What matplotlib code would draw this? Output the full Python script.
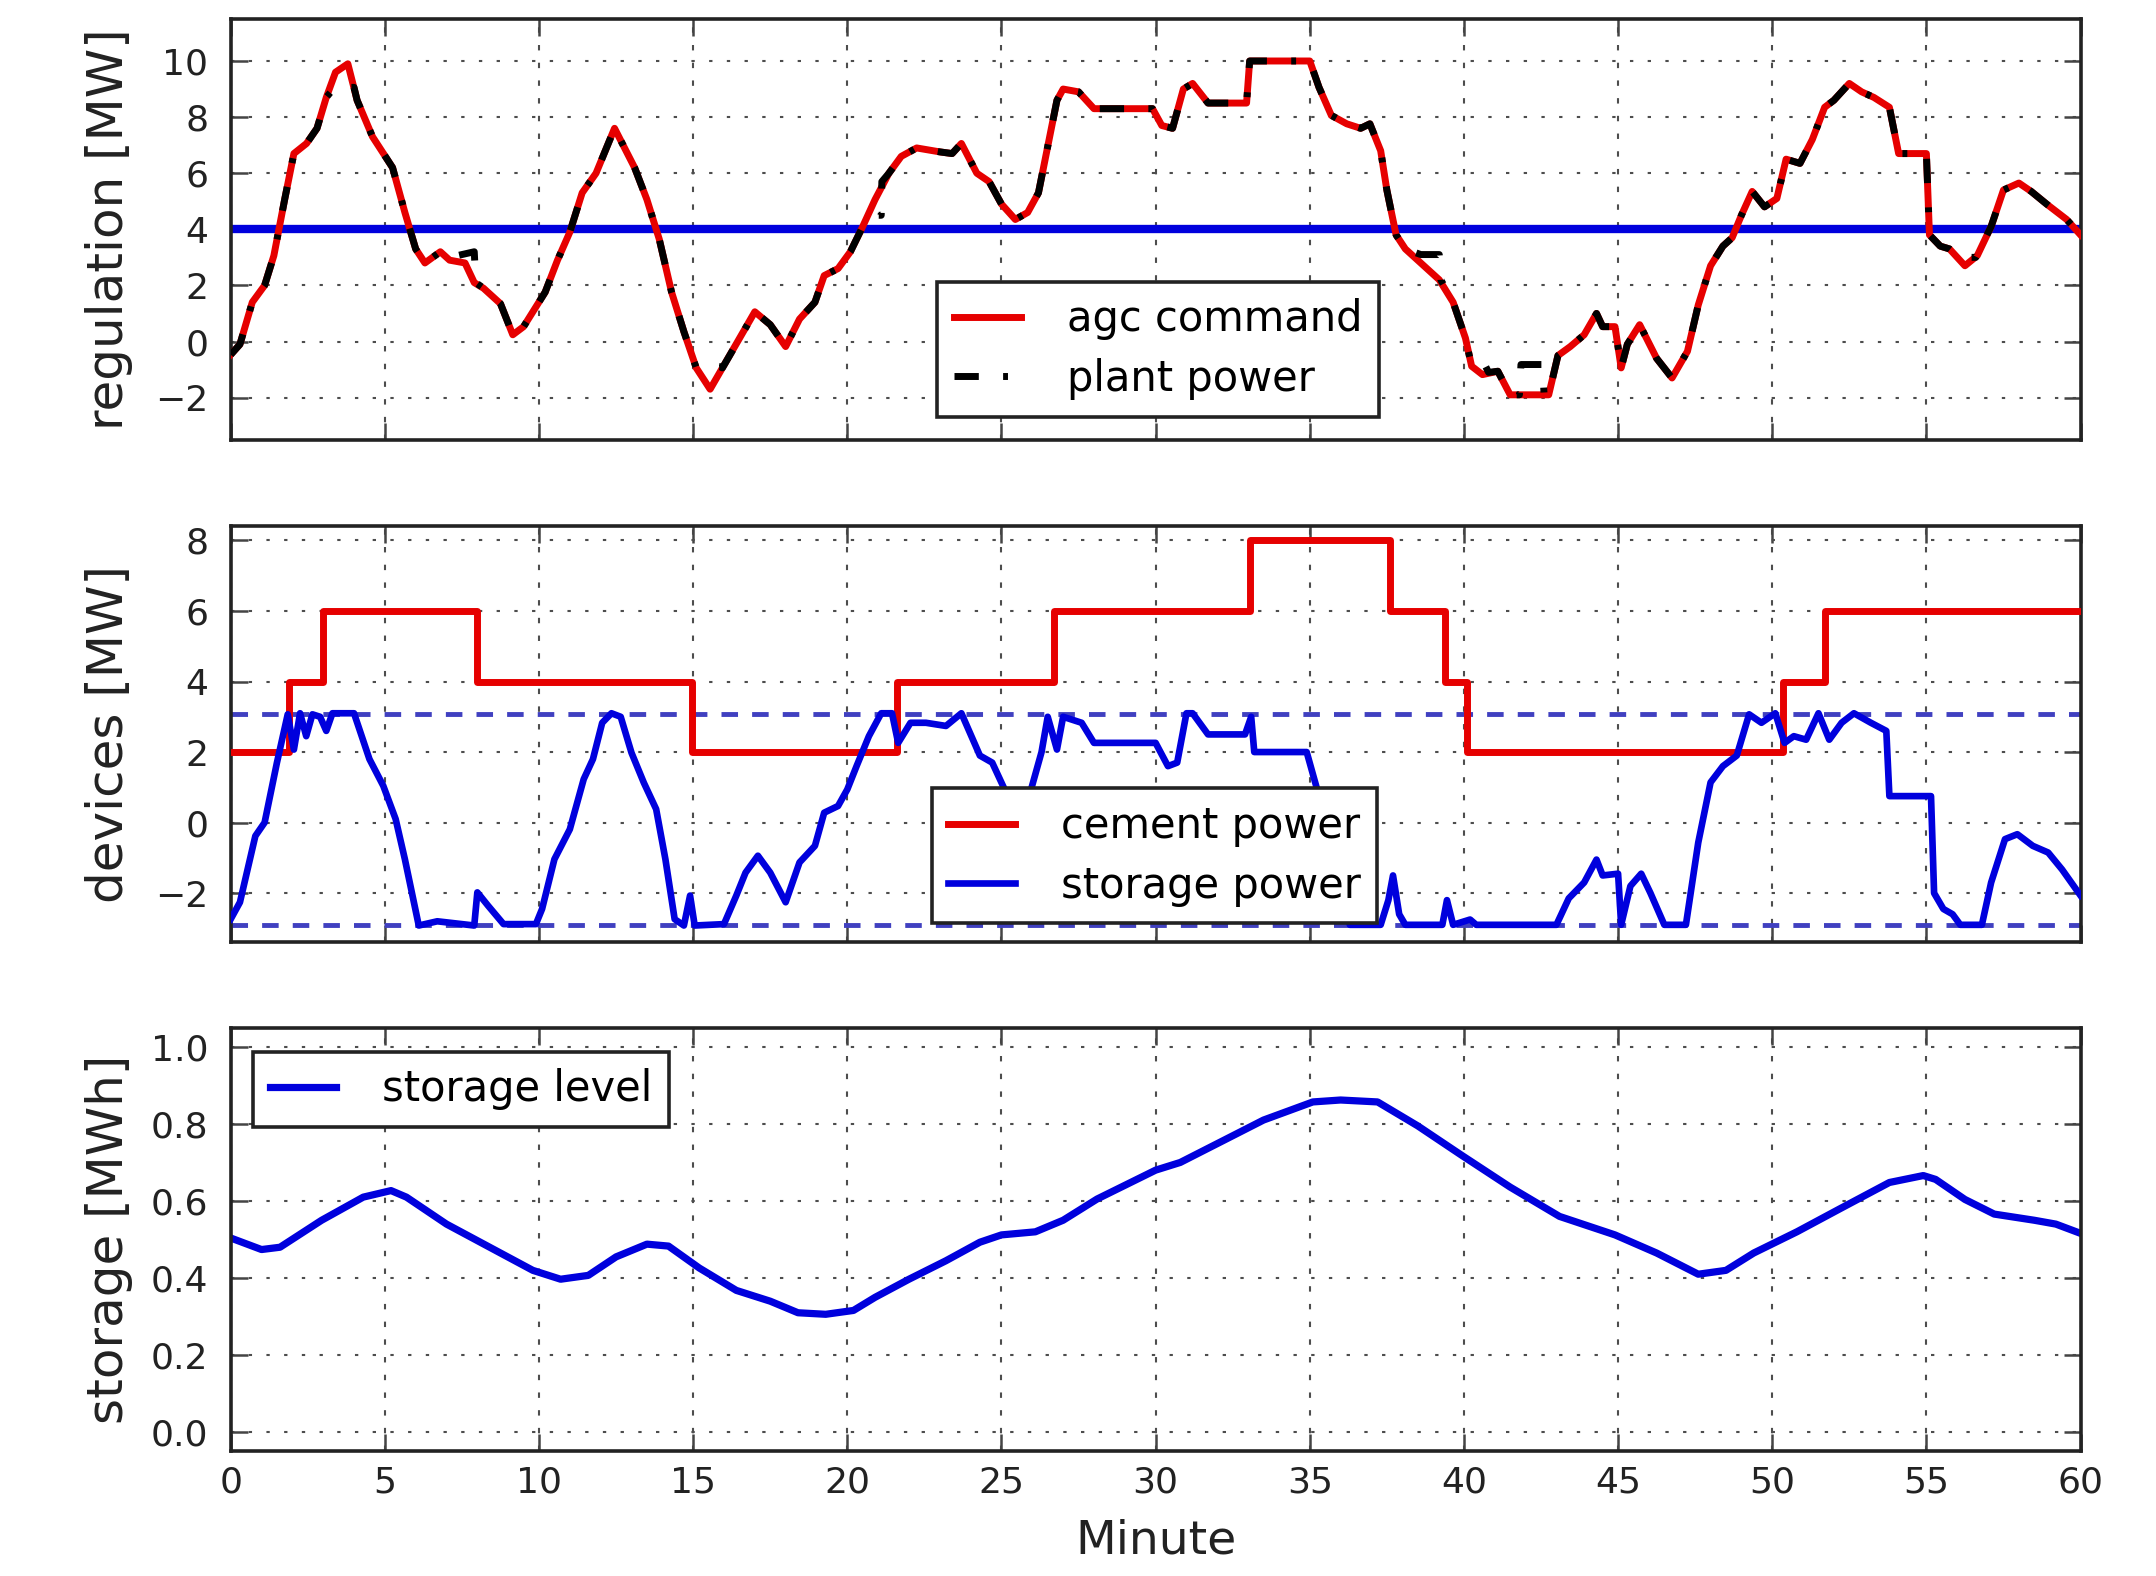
import matplotlib
matplotlib.use("Agg")
import matplotlib.pyplot as plt
import numpy as np

# ---------------- data ----------------
agc_minute = [0, 0.3, 0.7, 1.1, 1.4, 1.75, 2.05, 2.46, 2.8, 3.1, 3.4, 3.8, 4.1, 4.6, 5.25, 5.65,
              6.0, 6.3, 6.8, 7.1, 7.6, 7.9, 8.2, 8.75, 9.15, 9.5, 9.8, 10.2, 10.6, 11.0, 11.4,
              11.85, 12.45, 13.1, 13.5, 13.9, 14.3, 14.7, 15.1, 15.55, 15.95, 16.5, 17.0, 17.5,
              18.0, 18.45, 18.95, 19.25, 19.7, 20.1, 20.5, 20.9, 21.35, 21.75, 22.25, 23.0, 23.4,
              23.7, 24.2, 24.6, 25.0, 25.45, 25.85, 26.2, 26.5, 26.8, 27.0, 27.5, 28.0, 29.0,
              29.9, 30.2, 30.55, 30.9, 31.2, 31.7, 32.95, 33.05, 35.0, 35.3, 35.7, 36.2, 36.65,
              36.95, 37.3, 37.5, 37.8, 38.1, 38.7, 39.2, 39.65, 40.05, 40.25, 40.6, 41.1, 41.5,
              42.75, 43.05, 43.45, 43.9, 44.3, 44.5, 44.9, 45.1, 45.3, 45.7, 46.25, 46.75, 47.25,
              47.6, 48.0, 48.4, 48.7, 49.0, 49.35, 49.75, 50.15, 50.45, 50.9, 51.3, 51.7, 52.0,
              52.5, 52.9, 53.3, 53.8, 54.1, 55.0, 55.1, 55.45, 55.75, 56.25, 56.65, 57.1, 57.5,
              58.0, 58.4, 58.9, 59.55, 60.0]
agc_command = [-0.47, -0.1, 1.4, 2.0, 3.06, 5.06, 6.7, 7.06, 7.6, 8.7, 9.6, 9.9, 8.6, 7.3, 6.2, 4.6,
               3.3, 2.8, 3.2, 2.9, 2.8, 2.1, 1.9, 1.35, 0.24, 0.53, 1.06, 1.76, 2.9, 3.9, 5.3,
               6.0, 7.6, 6.2, 5.06, 3.65, 1.76, 0.35, -0.94, -1.7, -0.94, 0.1, 1.06, 0.6,
               -0.18, 0.8, 1.4, 2.35, 2.6, 3.2, 4.1, 5.06, 6.0, 6.6, 6.9, 6.76, 6.7,
               7.06, 6.0, 5.7, 4.9, 4.35, 4.6, 5.3, 6.94, 8.6, 9.0, 8.9, 8.3, 8.3,
               8.3, 7.7, 7.6, 9.0, 9.2, 8.5, 8.5, 10.0, 10.0, 9.06, 8.06, 7.76, 7.6,
               7.76, 6.8, 5.4, 3.8, 3.3, 2.7, 2.2, 1.4, 0.12, -0.88, -1.18, -1.06, -1.9,
               -1.9, -0.5, -0.18, 0.24, 1.0, 0.53, 0.53, -0.94, -0.1, 0.6, -0.6, -1.3, -0.35,
               1.3, 2.7, 3.4, 3.7, 4.5, 5.35, 4.8, 5.1, 6.5, 6.35, 7.2, 8.35, 8.6,
               9.2, 8.9, 8.7, 8.35, 6.7, 6.7, 3.8, 3.4, 3.3, 2.7, 3.06, 4.1, 5.4,
               5.65, 5.35, 4.9, 4.35, 3.8]

plant_minute = [0, 0.3, 0.7, 1.1, 1.4, 1.75, 2.05, 2.46, 2.8, 3.1, 3.4, 3.7, 4.0, 4.1, 4.6, 5.25,
                5.65, 6.0, 6.3, 6.8, 7.1, 7.9, 7.95, 8.2, 8.75, 9.15, 9.5, 9.8, 10.2, 10.6, 11.0,
                11.4, 11.85, 12.45, 13.1, 13.5, 13.9, 14.3, 14.7, 15.1, 15.3, 15.9, 15.95, 16.5,
                17.0, 17.5, 18.0, 18.45, 18.95, 19.25, 19.7, 20.1, 20.5, 20.9, 21.1, 21.12, 21.35,
                21.75, 22.25, 23.0, 23.4, 23.7, 24.2, 24.6, 25.0, 25.45, 25.85, 26.2, 26.5, 26.8,
                27.0, 27.5, 28.0, 29.0, 29.9, 30.2, 30.55, 30.9, 31.2, 31.7, 32.95, 33.05, 35.0,
                35.3, 35.7, 36.2, 36.65, 36.95, 37.3, 37.5, 37.8, 38.1, 38.6, 39.2, 39.25, 39.65,
                40.05, 40.25, 40.7, 40.8, 41.1, 41.5, 41.8, 41.85, 42.55, 42.6, 42.75, 43.05,
                43.45, 43.9, 44.3, 44.5, 44.9, 45.1, 45.3, 45.7, 46.25, 46.75, 47.25, 47.6, 48.0,
                48.4, 48.7, 49.0, 49.35, 49.75, 50.15, 50.45, 50.9, 51.3, 51.7, 52.0, 52.5, 52.9,
                53.3, 53.8, 54.1, 55.0, 55.1, 55.45, 55.75, 56.1, 56.6, 57.1, 57.5, 58.0, 58.4,
                58.9, 59.55, 60.0]
plant_power = [-0.47, -0.1, 1.4, 2.0, 3.06, 5.06, 6.7, 7.06, 7.6, 8.7, 9.1, 9.06, 9.06, 8.6, 7.3, 6.2,
               4.6, 3.3, 2.8, 3.2, 3.0, 3.2, 2.1, 1.9, 1.35, 0.24, 0.53, 1.06, 1.76, 2.9, 3.9,
               5.3, 6.0, 7.6, 6.2, 5.06, 3.65, 1.76, 0.35, -0.94, -0.9, -0.9, -0.94, 0.1,
               1.06, 0.6, -0.18, 0.8, 1.4, 2.35, 2.6, 3.2, 4.1, 4.5, 4.5, 5.7, 6.0,
               6.6, 6.9, 6.76, 6.7, 7.06, 6.0, 5.7, 4.9, 4.35, 4.6, 5.3, 6.94, 8.6,
               9.0, 8.9, 8.3, 8.3, 8.3, 7.7, 7.6, 9.0, 9.2, 8.5, 8.5, 10.0, 10.0,
               9.06, 8.06, 7.76, 7.6, 7.76, 6.8, 5.4, 3.8, 3.3, 3.1, 3.1, 2.2, 1.4,
               0.12, -0.88, -0.88, -1.1, -1.06, -1.9, -1.9, -0.82, -0.82, -1.9, -1.9, -0.5,
               -0.18, 0.24, 1.0, 0.53, 0.53, -0.94, -0.1, 0.6, -0.6, -1.3, -0.35, 1.3, 2.7,
               3.4, 3.7, 4.5, 5.35, 4.8, 5.1, 6.5, 6.35, 7.2, 8.35, 8.6, 9.2, 8.9,
               8.7, 8.35, 6.7, 6.7, 3.8, 3.4, 3.3, 3.0, 3.0, 4.1, 5.4, 5.65, 5.35,
               4.9, 4.35, 3.8]

regulation_capacity = 4.0

cement_minute = [0, 1.9, 3.0, 8.0, 14.95, 21.6, 26.7, 33.05, 37.6, 39.4, 40.1, 50.35, 51.7, 60]
cement_power = [2, 4, 6, 4, 2, 4, 6, 8, 6, 4, 2, 4, 6, 6]

storage_minute = [0.0, 0.3, 0.8, 1.1, 1.5, 1.85, 2.05, 2.25, 2.45, 2.65, 2.9, 3.1, 3.3, 4.0, 4.5,
                  4.95, 5.35, 5.65, 6.1, 6.7, 7.9, 8.0, 8.35, 8.85, 9.9, 10.1, 10.5, 11.0, 11.45,
                  11.75, 12.05, 12.35, 12.65, 13.0, 13.4, 13.8, 14.1, 14.4, 14.7, 14.9, 15.05,
                  16.0, 16.4, 16.7, 17.1, 17.5, 18.0, 18.45, 18.95, 19.25, 19.7, 20.0, 20.3, 20.7,
                  21.1, 21.45, 21.65, 22.05, 22.55, 23.2, 23.7, 24.3, 24.7, 25.15, 25.4, 25.9,
                  26.3, 26.5, 26.8, 27.0, 27.6, 28.0, 30.0, 30.4, 30.7, 31.0, 31.2, 31.7, 32.9,
                  33.1, 33.2, 34.9, 35.3, 35.8, 36.3, 37.3, 37.55, 37.7, 37.9, 38.1, 39.3, 39.45,
                  39.65, 40.2, 40.4, 43.0, 43.4, 43.9, 44.3, 44.5, 45.0, 45.1, 45.4, 45.75, 46.05,
                  46.5, 47.2, 47.6, 48.0, 48.4, 48.85, 49.25, 49.65, 50.1, 50.4, 50.7, 51.1, 51.5,
                  51.85, 52.25, 52.65, 53.2, 53.7, 53.8, 55.15, 55.25, 55.55, 55.85, 56.1, 56.8,
                  57.1, 57.55, 57.95, 58.45, 58.95, 59.4, 60.0]
storage_power = [-2.74, -2.26, -0.38, 0.0, 1.7, 3.07, 2.07, 3.1, 2.45, 3.07, 3.0, 2.6, 3.1, 3.1, 1.8,
                 1.04, 0.1, -1.04, -2.92, -2.8, -2.92, -1.98, -2.36, -2.88, -2.88, -2.45, -1.04, -0.19, 1.23,
                 1.8, 2.83, 3.1, 3.0, 1.98, 1.13, 0.38, -1.04, -2.74, -2.92, -2.07, -2.92,
                 -2.88, -2.07, -1.42, -0.94, -1.42, -2.26, -1.13, -0.66, 0.28, 0.47, 0.94, 1.6, 2.45,
                 3.1, 3.1, 2.26, 2.83, 2.83, 2.74, 3.1, 1.9, 1.7, 0.85, 0.75, 0.75,
                 2.0, 3.0, 2.07, 3.0, 2.83, 2.26, 2.26, 1.6, 1.7, 3.1, 3.1, 2.5, 2.5,
                 3.0, 2.0, 2.0, 0.75, -1.0, -2.9, -2.9, -2.2, -1.5, -2.6, -2.9, -2.9, -2.2,
                 -2.9, -2.75, -2.9, -2.9, -2.15, -1.7, -1.05, -1.5, -1.45, -2.9, -1.8, -1.45, -2.0,
                 -2.9, -2.9, -0.57, 1.14, 1.6, 1.9, 3.07, 2.83, 3.1, 2.26, 2.45, 2.35, 3.1,
                 2.35, 2.83, 3.1, 2.83, 2.6, 0.75, 0.75, -2.0, -2.45, -2.6, -2.9, -2.9,
                 -1.7, -0.47, -0.33, -0.66, -0.85, -1.33, -2.07]
storage_limits = [3.07, -2.9]

level_minute = [0, 1.0, 1.6, 2.95, 4.3, 5.2, 5.7, 7.0, 8.4, 9.8, 10.7, 11.6, 12.5, 13.5, 14.2,
                15.2, 16.4, 17.5, 18.4, 19.3, 20.2, 20.9, 22.0, 23.2, 24.3, 25.0, 26.1, 27.0,
                28.1, 30.0, 30.8, 32.2, 33.5, 35.1, 36.0, 37.2, 38.5, 39.9, 41.5, 43.1, 44.0,
                44.9, 46.25, 47.6, 48.5, 49.4, 50.8, 52.2, 53.8, 54.9, 55.3, 56.25, 57.2, 58.5,
                59.2, 60.0]
storage_level = [0.504, 0.474, 0.48, 0.55, 0.61, 0.627, 0.61, 0.54, 0.48, 0.42, 0.397, 0.407, 0.455,
                 0.488, 0.483, 0.426, 0.368, 0.34, 0.31, 0.306, 0.316, 0.35, 0.397, 0.445, 0.493,
                 0.512, 0.52, 0.55, 0.605, 0.68, 0.70, 0.757, 0.81, 0.857, 0.862, 0.857, 0.795,
                 0.72, 0.636, 0.56, 0.536, 0.512, 0.465, 0.41, 0.42, 0.465, 0.52, 0.58, 0.648,
                 0.666, 0.656, 0.604, 0.566, 0.55, 0.54, 0.516]

x_ticks = list(range(0, 61, 5))
reg_ticks = [-2, 0, 2, 4, 6, 8, 10]
dev_ticks = [-2, 0, 2, 4, 6, 8]
lev_ticks = [0.0, 0.2, 0.4, 0.6, 0.8, 1.0]

# ---------------- style ----------------
plt.rcParams['font.family'] = ['DejaVu Sans']
TICK_FS = 26
LABEL_FS = 36
XLABEL_FS = 34
LEG_FS = 30
RED = '#e60000'
BLUE = '#0000dd'

fig = plt.figure(figsize=(21.56, 15.76), dpi=100, facecolor='white')
left, right = 0.107, 0.965
ax1 = fig.add_axes([left, 0.721, right - left, 0.267])
ax2 = fig.add_axes([left, 0.402, right - left, 0.264])
ax3 = fig.add_axes([left, 0.079, right - left, 0.269])


def style_axes(ax):
    for s in ax.spines.values():
        s.set_linewidth(2.6)
        s.set_color('#222222')
    ax.tick_params(direction='in', length=12, width=1.8, color='#444444', top=True, right=True,
                   labelsize=TICK_FS, labelcolor='#222222')
    ax.tick_params(axis='y', pad=16)
    ax.tick_params(axis='x', pad=10)
    ax.xaxis.grid(True, color='0.3', linestyle=(0, (2.6, 5.9)), linewidth=1.5)
    ax.yaxis.grid(True, color='0.3', linestyle=(0, (1.6, 6.9)), linewidth=1.5)
    ax.set_axisbelow(True)
    ax.set_xlim(0, 60)
    ax.set_xticks(x_ticks)
    ax.yaxis.set_label_coords(-0.053, 0.5)


legend_kw = dict(fontsize=LEG_FS, fancybox=False, framealpha=1, edgecolor='#222222',
                 handlelength=1.6, borderpad=0.4, labelspacing=0.42, handletextpad=1.1,
                 borderaxespad=0.0)

# top panel
ax1.axhline(regulation_capacity, color=BLUE, linewidth=6, zorder=2)
ax1.plot(agc_minute, agc_command, color=RED, linewidth=5, label='agc command', zorder=3)
ax1.plot(plant_minute, plant_power, color='black', linewidth=5,
         linestyle=(0, (3.5, 3.5, 0.7, 3.5)), label='plant power', zorder=4)
style_axes(ax1)
ax1.set_ylim(-3.5, 11.5)
ax1.set_yticks(reg_ticks)
ax1.set_xticklabels([])
ax1.set_ylabel('regulation [MW]', fontsize=LABEL_FS, color='#222222')
leg = ax1.legend(loc='lower left', bbox_to_anchor=(0.382, 0.055), **legend_kw)
leg.get_frame().set_linewidth(2.6)

# middle panel
for lim in storage_limits:
    ax2.axhline(lim, color='#4040c0', linewidth=3.5, linestyle=(0, (3.4, 2.9)), zorder=2)
ax2.plot(cement_minute, cement_power, color=RED, linewidth=5,
         drawstyle='steps-post', label='cement power', zorder=3)
ax2.plot(storage_minute, storage_power, color=BLUE, linewidth=4.8,
         label='storage power', zorder=4)
style_axes(ax2)
ax2.set_ylim(-3.4, 8.4)
ax2.set_yticks(dev_ticks)
ax2.set_xticklabels([])
ax2.set_ylabel('devices [MW]', fontsize=LABEL_FS, color='#222222')
leg = ax2.legend(loc='lower left', bbox_to_anchor=(0.379, 0.046), **legend_kw)
leg.get_frame().set_linewidth(2.6)

# bottom panel
ax3.plot(level_minute, storage_level, color=BLUE, linewidth=5.2, label='storage level')
style_axes(ax3)
ax3.set_ylim(-0.05, 1.05)
ax3.set_yticks(lev_ticks)
ax3.set_yticklabels([f'{v:.1f}' for v in lev_ticks])
ax3.set_ylabel('storage [MWh]', fontsize=LABEL_FS, color='#222222')
ax3.set_xlabel('Minute', fontsize=XLABEL_FS, labelpad=14, color='#222222')
leg = ax3.legend(loc='upper left', bbox_to_anchor=(0.012, 0.943), **legend_kw)
leg.get_frame().set_linewidth(2.6)

fig.savefig('out.png', dpi=100, facecolor='white')
